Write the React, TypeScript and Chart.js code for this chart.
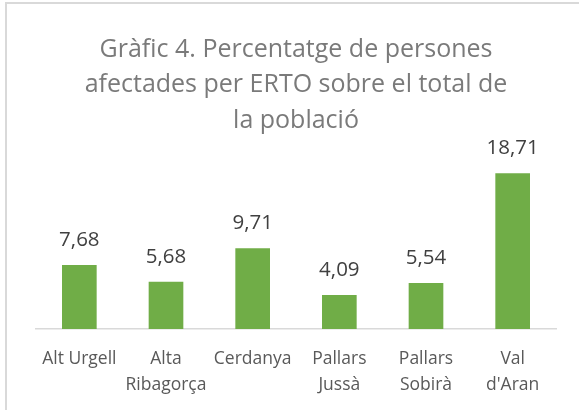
import React, { useEffect, useRef } from "react";
import { Chart, registerables } from "chart.js";

Chart.register(...registerables);

const titleLines = ["Gràfic 4. Percentatge de persones", "afectades per ERTO sobre el total de", "la població"];
const categories = [["Alt Urgell"], ["Alta", "Ribagorça"], ["Cerdanya"], ["Pallars", "Jussà"], ["Pallars", "Sobirà"], ["Val", "d'Aran"]];
const values = [7.68, 5.68, 9.71, 4.09, 5.54, 18.71];
const yMax = 20;

const FONT = "'Open Sans', 'Noto Sans', sans-serif";

const labelPlugin = {
  id: "valueLabels",
  afterDatasetsDraw(chart: any) {
    const ctx = chart.ctx;
    const meta = chart.getDatasetMeta(0);
    ctx.save();
    ctx.font = `20.5px ${FONT}`;
    ctx.fillStyle = "#404040";
    ctx.textAlign = "center";
    ctx.textBaseline = "middle";
    meta.data.forEach((bar: any, i: number) => {
      const txt = values[i].toFixed(2).replace(".", ",");
      ctx.fillText(txt, bar.x, bar.y - 25);
    });
    ctx.restore();
  },
};

export default function App() {
  const ref = useRef<HTMLCanvasElement>(null);
  useEffect(() => {
    if (!ref.current) return;
    const chart = new Chart(ref.current, {
      type: "bar",
      data: {
        labels: categories as any,
        datasets: [
          {
            data: values,
            backgroundColor: "#70AD47",
            barPercentage: 1,
            categoryPercentage: 0.4,
          },
        ],
      },
      options: {
        animation: false,
        responsive: false,
        maintainAspectRatio: false,
        layout: { padding: { left: 36, right: 23, top: 0, bottom: 0 } },
        plugins: {
          legend: { display: false },
          tooltip: { enabled: false },
          title: {
            display: true,
            text: titleLines,
            color: "#7a7a7a",
            font: { family: FONT, size: 25, weight: "normal", lineHeight: 1.42 },
            padding: { top: 32, bottom: 24 },
          },
        },
        scales: {
          x: {
            grid: { display: false },
            border: { display: true, color: "#d9d9d9", width: 1.5 },
            ticks: {
              color: "#595959",
              font: { family: FONT, size: 17.5, lineHeight: 1.43 },
              padding: 10,
              maxRotation: 0,
              autoSkip: false,
            },
            afterFit(scale: any) {
              scale.height = 81;
            },
          },
          y: {
            display: false,
            min: 0,
            max: yMax,
          },
        },
      },
      plugins: [labelPlugin],
    });
    return () => chart.destroy();
  }, []);
  return (
    <div style={{ position: "fixed", left: 0, top: 0, width: 579, height: 410, background: "#fff" }}>
      <div
        style={{
          position: "absolute",
          left: 5,
          top: 2,
          right: -10,
          bottom: -10,
          borderTop: "2px solid #d9d9d9",
          borderLeft: "2px solid #d9d9d9",
        }}
      />
      <canvas ref={ref} width={579} height={410} style={{ position: "absolute", left: 0, top: 0 }} />
    </div>
  );
}
